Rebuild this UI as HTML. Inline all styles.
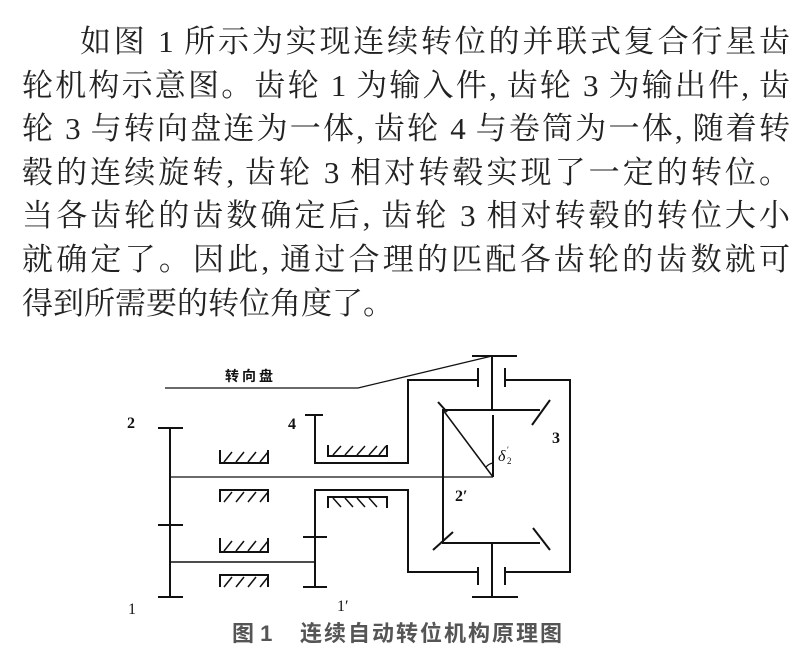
<!DOCTYPE html>
<html><head><meta charset="utf-8"><style>
html,body{margin:0;padding:0;background:#fff;}
body{width:811px;height:659px;position:relative;overflow:hidden;}
.t{position:absolute;left:22px;width:768px;top:20px;font-family:"Liberation Serif","Noto Serif CJK SC",serif;font-size:31px;line-height:43.6px;color:#222;}
.t div{text-align:justify;text-align-last:justify;height:43.6px;white-space:nowrap;}
svg{position:absolute;left:0;top:0;}
.lb{font-family:"Liberation Serif","Noto Serif CJK SC",serif;font-size:16px;fill:#111;}
</style></head><body>
<div class="t">
<div style="padding-left:58px">如图 1 所示为实现连续转位的并联式复合行星齿</div>
<div>轮机构示意图。齿轮 1 为输入件, 齿轮 3 为输出件, 齿</div>
<div>轮 3 与转向盘连为一体, 齿轮 4 与卷筒为一体, 随着转</div>
<div>毂的连续旋转, 齿轮 3 相对转毂实现了一定的转位。</div>
<div>当各齿轮的齿数确定后, 齿轮 3 相对转毂的转位大小</div>
<div>就确定了。因此, 通过合理的匹配各齿轮的齿数就可</div>
<div style="text-align-last:left">得到所需要的转位角度了。</div>
</div>
<svg width="811" height="659" viewBox="0 0 811 659">
<g stroke="#111" stroke-width="2" fill="none">
<polyline points="165,388 358,388 492,356" stroke-width="1.3"/>
<line x1="472" y1="356" x2="517" y2="356"/>
<line x1="492" y1="356" x2="492" y2="410"/>
<line x1="478" y1="368" x2="478" y2="387"/>
<line x1="505" y1="368" x2="505" y2="387"/>
<polyline points="478,380 408,380 408,463 315,463 315,415"/>
<line x1="305" y1="415" x2="323" y2="415"/>
<polyline points="505,380 570,380 570,572 505,572"/>
<polyline points="478,572 408,572 408,490 315,490 315,587"/>
<line x1="303" y1="537" x2="327" y2="537"/>
<line x1="303" y1="587" x2="327" y2="587"/>
<line x1="478" y1="567" x2="478" y2="585"/>
<line x1="505" y1="567" x2="505" y2="585"/>
<line x1="492" y1="543" x2="492" y2="597"/>
<line x1="472" y1="597" x2="518" y2="597"/>
<polyline points="540,410 443,410 443,543 540,543"/>
<line x1="438" y1="402" x2="447" y2="412"/>
<line x1="532" y1="425" x2="550" y2="400"/>
<line x1="433" y1="550" x2="453" y2="532"/>
<line x1="533" y1="528" x2="550" y2="550"/>
<line x1="443" y1="410" x2="493" y2="477" stroke-width="1.5"/>
<line x1="493" y1="415" x2="493" y2="477"/>
<path d="M486,467 A12,12 0 0 1 493,463" stroke-width="1.2"/>
<line x1="170" y1="477" x2="493" y2="477" stroke-width="1.3"/>
<line x1="170" y1="428" x2="170" y2="597"/>
<line x1="158" y1="428" x2="183" y2="428"/>
<line x1="158" y1="525" x2="183" y2="525"/>
<line x1="158" y1="597" x2="183" y2="597"/>
<line x1="170" y1="562" x2="315" y2="562" stroke-width="1.5"/>
<path d="M220,450 V463 H268 V450"/>
<path d="M224,462 L232,452 M236,462 L244,452 M248,462 L256,452 M260,462 L268,452" stroke-width="1.5"/>
<path d="M220,502 V490 H268 V502"/>
<path d="M224,502 L232,492 M236,502 L244,492 M248,502 L256,492 M260,502 L268,492" stroke-width="1.5"/>
<path d="M220,538 V552 H268 V538"/>
<path d="M224,551 L232,541 M236,551 L244,541 M248,551 L256,541 M260,551 L268,541" stroke-width="1.5"/>
<path d="M220,587 V575 H268 V587"/>
<path d="M224,587 L232,577 M236,587 L244,577 M248,587 L256,577 M260,587 L268,577" stroke-width="1.5"/>
<path d="M328,445 V456 H387 V445"/>
<path d="M333,455 L341,446 M345,455 L353,446 M357,455 L365,446 M369,455 L377,446 M379,455 L386,446" stroke-width="1.5"/>
<path d="M328,508 V497 H387 V508"/>
<path d="M333,498 L341,507 M345,498 L353,507 M357,498 L365,507 M369,498 L377,507" stroke-width="1.5"/>
</g>
<text x="225" y="381" style="font-weight:bold;font-family:'Noto Sans CJK SC',sans-serif;font-size:14px;letter-spacing:3px;fill:#111">转向盘</text>
<text x="127" y="428" class="lb" font-weight="bold">2</text>
<text x="288" y="429" class="lb" font-weight="bold">4</text>
<text x="552" y="443" class="lb" font-weight="bold">3</text>
<text x="498" y="461" class="lb" style="font-style:italic">δ</text><text x="507" y="464" class="lb" style="font-size:9px">2</text><text x="507" y="453" class="lb" style="font-size:9px">′</text>
<text x="455" y="501" class="lb" font-weight="bold">2′</text>
<text x="128" y="614" class="lb">1</text>
<text x="337" y="611" class="lb">1′</text>
<text x="232" y="641" style="font-family:'Liberation Sans','Noto Sans CJK SC',sans-serif;font-weight:bold;font-size:22px;fill:#555">图 1</text>
<text x="300" y="641" style="font-family:'Liberation Sans','Noto Sans CJK SC',sans-serif;font-weight:bold;font-size:22px;fill:#555;letter-spacing:2px">连续自动转位机构原理图</text>
</svg>
</body></html>
